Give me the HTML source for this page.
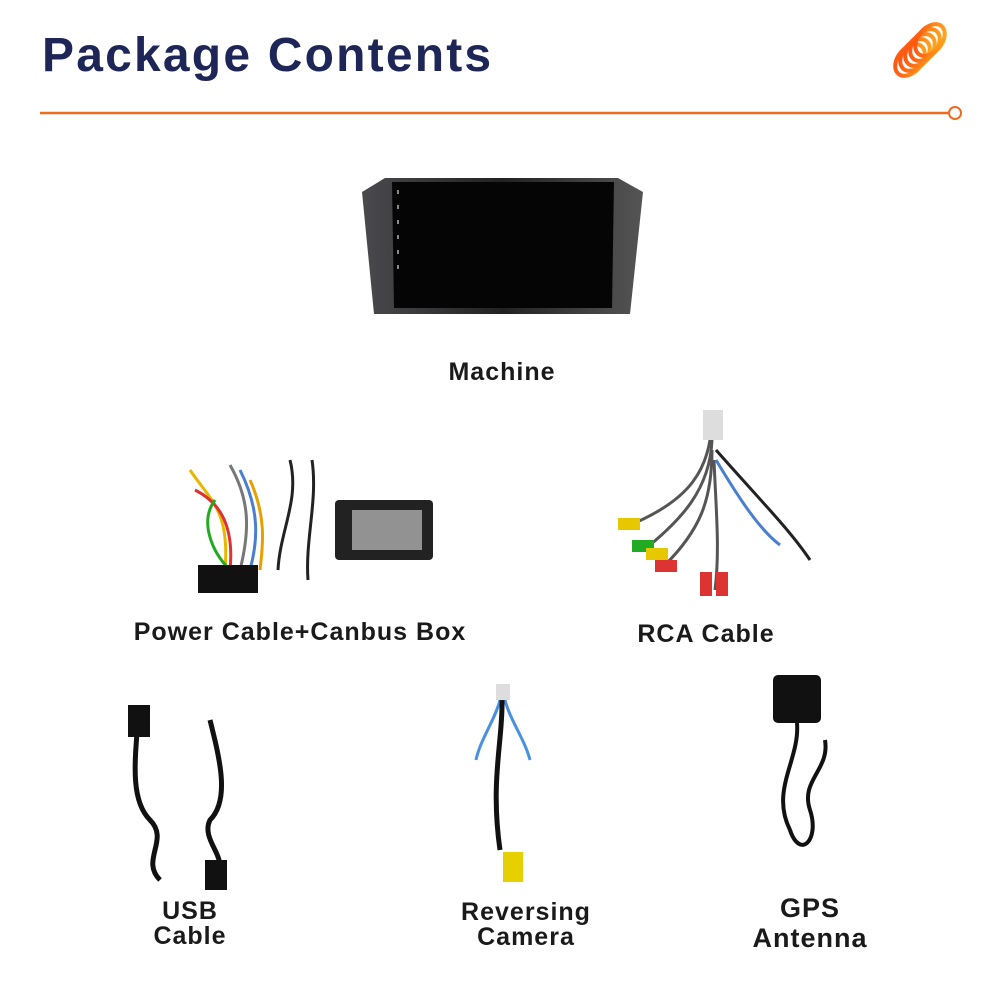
<!DOCTYPE html>
<html><head><meta charset="utf-8"><style>
html,body{margin:0;padding:0;background:#fff;}
body{width:1000px;height:1000px;position:relative;overflow:hidden;font-family:"Liberation Sans",sans-serif;}
.t{position:absolute;color:#1a1a1a;font-weight:bold;font-size:25px;text-align:center;line-height:25px;letter-spacing:1px;}
h1{position:absolute;left:42px;top:28px;margin:0;font-size:48px;color:#1d2656;font-weight:bold;letter-spacing:2.2px;}
</style></head><body>
<h1>Package Contents</h1>
<svg width="1000" height="1000" style="position:absolute;left:0;top:0">
<defs><linearGradient id="g" x1="0" y1="1" x2="1" y2="0"><stop offset="0" stop-color="#ff4a10"/><stop offset="1" stop-color="#ffb020"/></linearGradient>
<linearGradient id="b" x1="0" y1="0" x2="1" y2="0"><stop offset="0" stop-color="#4a4a4e"/><stop offset="0.5" stop-color="#222"/><stop offset="1" stop-color="#555"/></linearGradient></defs>
<g fill="none" stroke="url(#g)" stroke-width="4">
<ellipse cx="910" cy="60" rx="12" ry="18" transform="rotate(40 910 60)"/>
<ellipse cx="915" cy="55" rx="12" ry="18" transform="rotate(40 915 55)"/>
<ellipse cx="920" cy="50" rx="12" ry="18" transform="rotate(40 920 50)"/>
<ellipse cx="925" cy="45" rx="12" ry="18" transform="rotate(40 925 45)"/>
<ellipse cx="930" cy="40" rx="12" ry="18" transform="rotate(40 930 40)"/>
</g>
<line x1="40" y1="113" x2="949" y2="113" stroke="#f06a1e" stroke-width="2.5"/>
<circle cx="955" cy="113" r="6" fill="#fff" stroke="#f06a1e" stroke-width="2"/>
<!-- machine -->
<polygon points="385,178 618,178 643,192 630,314 374,314 362,192" fill="url(#b)"/>
<polygon points="392,182 614,182 612,308 394,308" fill="#050505"/>
<g fill="#888"><rect x="397" y="190" width="2" height="4"/><rect x="397" y="205" width="2" height="4"/><rect x="397" y="220" width="2" height="4"/><rect x="397" y="235" width="2" height="4"/><rect x="397" y="250" width="2" height="4"/><rect x="397" y="265" width="2" height="4"/></g>
<!-- power cable -->
<g fill="none" stroke-width="3">
<path d="M190,470 C210,500 230,510 225,570" stroke="#e6b800"/>
<path d="M195,490 C215,500 235,520 230,570" stroke="#d33"/>
<path d="M230,465 C250,500 250,530 240,570" stroke="#777"/>
<path d="M240,470 C260,510 258,540 250,570" stroke="#4a7fd0"/>
<path d="M250,480 C268,520 262,550 260,570" stroke="#e8a000"/>
<path d="M215,500 C200,520 210,550 230,570" stroke="#2a2"/>
<path d="M290,460 C300,500 280,530 278,570" stroke="#222"/>
<path d="M312,460 C318,500 305,540 308,580" stroke="#222"/>
</g>
<rect x="198" y="565" width="60" height="28" fill="#111"/>
<rect x="335" y="500" width="98" height="60" rx="4" fill="#222"/>
<rect x="352" y="510" width="70" height="40" fill="#ddd" opacity="0.6"/>
<!-- RCA -->
<g fill="none" stroke-width="3">
<path d="M712,420 C710,470 690,500 630,525" stroke="#555"/>
<path d="M712,440 C710,490 680,520 650,545" stroke="#555"/>
<path d="M712,450 C712,500 700,530 665,565" stroke="#555"/>
<path d="M714,460 C716,510 720,550 715,590" stroke="#555"/>
<path d="M716,460 C740,500 760,530 780,545" stroke="#4a7fd0"/>
<path d="M716,450 C760,500 790,530 810,560" stroke="#222"/>
</g>
<rect x="703" y="410" width="20" height="30" fill="#ddd"/>
<rect x="618" y="518" width="22" height="12" fill="#e6c800"/>
<rect x="632" y="540" width="22" height="12" fill="#2a2"/>
<rect x="646" y="548" width="22" height="12" fill="#e6c800"/>
<rect x="655" y="560" width="22" height="12" fill="#d33"/>
<rect x="700" y="572" width="12" height="24" fill="#d33"/>
<rect x="716" y="572" width="12" height="24" fill="#d33"/>
<!-- USB -->
<g fill="none" stroke="#111" stroke-width="5">
<path d="M138,720 C135,760 130,800 150,820 C170,840 140,860 160,880"/>
<path d="M210,720 C220,760 230,800 210,820 C200,840 230,860 215,870"/>
</g>
<rect x="128" y="705" width="22" height="32" fill="#111"/>
<rect x="205" y="860" width="22" height="30" fill="#111"/>
<!-- camera -->
<g fill="none" stroke-width="3">
<path d="M500,700 C495,720 480,740 476,760" stroke="#4a90e0"/>
<path d="M505,700 C510,720 525,740 530,760" stroke="#4a90e0"/>
<path d="M502,700 C503,740 490,780 500,850" stroke="#111" stroke-width="5"/>
</g>
<rect x="496" y="684" width="14" height="16" fill="#ddd"/>
<rect x="503" y="852" width="20" height="30" fill="#e6d000"/>
<!-- GPS -->
<rect x="773" y="675" width="48" height="48" rx="5" fill="#111"/>
<g fill="none" stroke="#111" stroke-width="4">
<path d="M797,723 C800,760 770,790 790,830 C800,860 820,840 810,810 C800,780 830,770 825,740"/>
</g>
</svg>
<div class="t" style="left:402px;top:360px;width:200px">Machine</div>
<div class="t" style="left:80px;top:620px;width:440px">Power Cable+Canbus Box</div>
<div class="t" style="left:606px;top:622px;width:200px">RCA Cable</div>
<div class="t" style="left:90px;top:899px;width:200px">USB<br>Cable</div>
<div class="t" style="left:426px;top:900px;width:200px">Reversing<br>Camera</div>
<div class="t" style="left:710px;top:893px;width:200px;font-size:27px;line-height:30px">GPS<br>Antenna</div>
</body></html>
